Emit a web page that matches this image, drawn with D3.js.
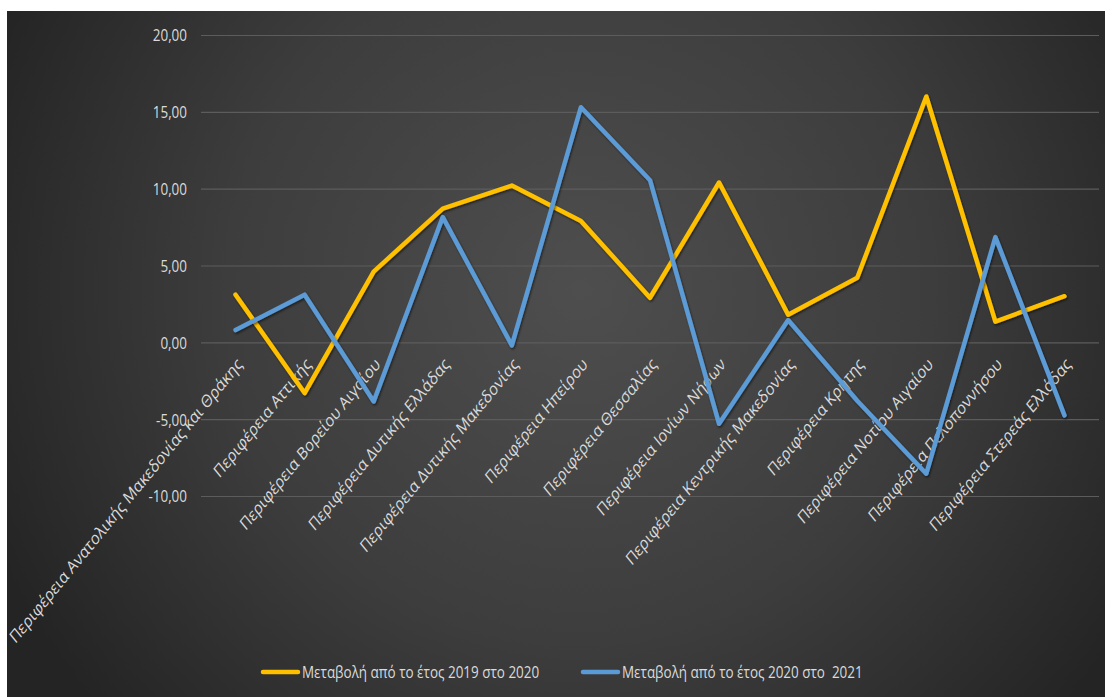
<!DOCTYPE html>
<html>
<head>
<meta charset="utf-8">
<script src="https://cdn.jsdelivr.net/npm/d3@7"></script>
<style>
  html, body { margin: 0; padding: 0; background: #fff; }
  svg { display: block; }
</style>
</head>
<body>
<div id="chart"></div>
<script>
const regions = [
  "Περιφέρεια Ανατολικής Μακεδονίας και Θράκης",
  "Περιφέρεια Αττικής",
  "Περιφέρεια Βορείου Αιγαίου",
  "Περιφέρεια Δυτικής Ελλάδας",
  "Περιφέρεια Δυτικής Μακεδονίας",
  "Περιφέρεια Ηπείρου",
  "Περιφέρεια Θεσσαλίας",
  "Περιφέρεια Ιονίων Νήσων",
  "Περιφέρεια Κεντρικής Μακεδονίας",
  "Περιφέρεια Κρήτης",
  "Περιφέρεια Νοτίου Αιγαίου",
  "Περιφέρεια Πελοποννήσου",
  "Περιφέρεια Στερεάς Ελλάδας"
];
const change2019to2020 = [3.1, -3.3, 4.6, 8.7, 10.2, 7.9, 2.9, 10.4, 1.8, 4.2, 16.0, 1.35, 3.0];
const change2020to2021 = [0.8, 3.1, -3.85, 8.15, -0.2, 15.3, 10.55, -5.3, 1.45, -3.8, -8.55, 6.85, -4.75];
const seriesNames = ["Μεταβολή από το έτος 2019 στο 2020", "Μεταβολή από το έτος 2020 στο  2021"];
const seriesColors = ["#FFC000", "#5B9BD5"];
const yTicks = [-10, -5, 0, 5, 10, 15, 20];

const W = 1105, H = 697;
const plot = { left: 201, right: 1099, top: 35, bottom: 496 };
const sx = 0.816;           // the picture is squeezed horizontally
const font = "'Open Sans', 'Noto Sans', sans-serif";
const fontSize = "16.5px";
const textColor = "#dadada";

const loc = d3.formatLocale({ decimal: ",", thousands: ".", grouping: [3], currency: ["", "€"], minus: "-" });
const fmt = loc.format(".2f");

const svg = d3.select("#chart").append("svg")
  .attr("width", W)
  .attr("height", H)
  .style("font-family", font);

const defs = svg.append("defs");
const grad = defs.append("radialGradient")
  .attr("id", "bg")
  .attr("gradientUnits", "userSpaceOnUse")
  .attr("cx", 580).attr("cy", 290).attr("r", 640);
grad.append("stop").attr("offset", "0%").attr("stop-color", "#4e4e4e");
grad.append("stop").attr("offset", "55%").attr("stop-color", "#3d3d3d");
grad.append("stop").attr("offset", "100%").attr("stop-color", "#242424");

const shadow = defs.append("filter").attr("id", "shadow")
  .attr("x", "-5%").attr("y", "-5%").attr("width", "110%").attr("height", "110%");
shadow.append("feDropShadow")
  .attr("dx", 1).attr("dy", 1.5).attr("stdDeviation", 1.2)
  .attr("flood-color", "#000").attr("flood-opacity", 0.55);

svg.append("rect")
  .attr("x", 7).attr("y", 11)
  .attr("width", W - 7).attr("height", H - 11)
  .attr("fill", "url(#bg)");

const x = d3.scalePoint()
  .domain(regions)
  .range([plot.left, plot.right])
  .padding(0.5);

const y = d3.scaleLinear()
  .domain([-10, 20])
  .range([plot.bottom, plot.top]);

// y axis with gridlines
const yAxisG = svg.append("g")
  .attr("transform", `translate(${plot.left},0)`)
  .call(d3.axisLeft(y).tickValues(yTicks).tickFormat(fmt).tickSize(-(plot.right - plot.left)));

yAxisG.select(".domain").remove();
yAxisG.selectAll(".tick line")
  .attr("stroke", "#5c5c5c")
  .attr("stroke-width", 1.2);
yAxisG.selectAll(".tick text")
  .attr("x", null)
  .attr("dy", "0.36em")
  .attr("transform", `translate(-14,0) scale(${sx},1)`)
  .attr("fill", textColor)
  .style("font-family", font)
  .style("font-size", fontSize);

// category labels, rotated, hanging from the zero line
const xAxisG = svg.append("g")
  .attr("transform", `translate(0,${y(0)})`)
  .call(d3.axisBottom(x).tickSize(0));

xAxisG.select(".domain").remove();
xAxisG.selectAll(".tick text")
  .attr("y", null)
  .attr("dy", null)
  .attr("text-anchor", "end")
  .attr("transform", `translate(7,23) scale(${sx},1) rotate(-45)`)
  .attr("fill", textColor)
  .style("font-family", font)
  .style("font-size", "17.5px");

// lines
const line = d3.line()
  .x((d, i) => x(regions[i]))
  .y(d => y(d));

[change2019to2020, change2020to2021].forEach((values, k) => {
  svg.append("path")
    .datum(values)
    .attr("d", line)
    .attr("fill", "none")
    .attr("stroke", seriesColors[k])
    .attr("stroke-width", 4.5)
    .attr("stroke-linejoin", "round")
    .attr("stroke-linecap", "round")
    .attr("filter", "url(#shadow)");
});

// legend
const legendX = [263, 583];
const legendY = 672;
const legend = svg.append("g");
seriesNames.forEach((name, k) => {
  legend.append("line")
    .attr("x1", legendX[k]).attr("x2", legendX[k] + 35)
    .attr("y1", legendY).attr("y2", legendY)
    .attr("stroke", seriesColors[k])
    .attr("stroke-width", 4.5)
    .attr("stroke-linecap", "round");
  legend.append("text")
    .attr("transform", `translate(${legendX[k] + 39},${legendY}) scale(${sx},1)`)
    .attr("dy", "0.36em")
    .attr("fill", textColor)
    .style("font-size", fontSize)
    .style("white-space", "pre")
    .text(name);
});
</script>
</body>
</html>
